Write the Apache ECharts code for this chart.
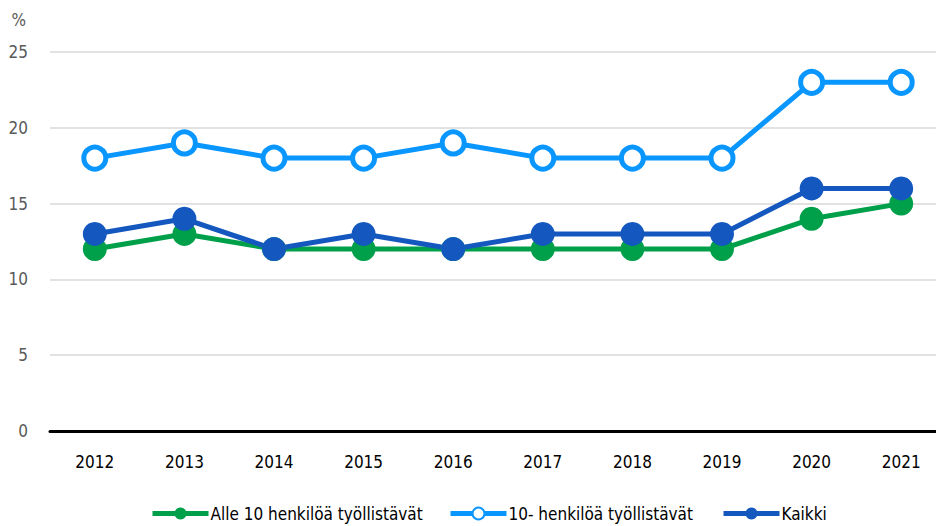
<!DOCTYPE html>
<html><head><meta charset="utf-8">
<script src="https://cdn.jsdelivr.net/npm/echarts@6/dist/echarts.min.js"></script>
<style>html,body{margin:0;padding:0;background:#fff}#c{width:936px;height:526px}</style>
</head><body><div id="c"></div>
<script>
const categories = ['2012','2013','2014','2015','2016','2017','2018','2019','2020','2021'];
const alle10 = [12,13,12,12,12,12,12,12,14,15];
const yli10 = [18,19,18,18,19,18,18,18,23,23];
const kaikki = [13,14,12,13,12,13,13,13,16,16];
const seriesNames = ['Alle 10 henkilöä työllistävät','10- henkilöä työllistävät','Kaikki'];
const FONT = '"Liberation Sans Narrow", "DejaVu Sans Condensed", "Noto Sans", sans-serif';
const FW = 'condensed';
const chart = echarts.init(document.getElementById('c'), null, {renderer:'svg'});
function mk(name, data, color, hollow){
  return {
    name, type:'line', data,
    symbol:'circle', symbolSize: hollow ? 22 : 24,
    lineStyle:{color, width:5},
    itemStyle: hollow ? {color:'#fff', borderColor:color, borderWidth:5} : {color, borderColor:color, borderWidth:0},
    emphasis:{disabled:true}, z: hollow?2:3
  };
}
function lg(name, left){
  return {
    bottom:4, left, itemWidth:56, itemHeight:15, padding:0,
    lineStyle:{width:5},
    textStyle:{fontFamily:FONT, fontWeight:FW, fontSize:17, color:'#000', padding:[0,0,0,-3]},
    data:[name]
  };
}
chart.setOption({
  animation:false,
  grid:{left:50, top:52, width:896, height:379, containLabel:false, outerBoundsMode:'none'},
  legend:[lg(seriesNames[0],150), lg(seriesNames[1],448), lg(seriesNames[2],721)],
  xAxis:{
    type:'category', data:categories, boundaryGap:true,
    axisLine:{lineStyle:{color:'#000', width:3}},
    axisTick:{show:false},
    axisLabel:{fontFamily:FONT, fontWeight:FW, fontSize:17, color:'#000', margin:22}
  },
  yAxis:{
    type:'value', min:0, max:25, interval:5, name:'%',
    nameLocation:'end', nameGap:24,
    nameTextStyle:{fontFamily:FONT, fontWeight:FW, fontSize:17, color:'#595959', align:'right', padding:[0,24,0,0]},
    axisLine:{show:false}, axisTick:{show:false},
    axisLabel:{fontFamily:FONT, fontWeight:FW, fontSize:17, color:'#595959', margin:22},
    splitLine:{lineStyle:{color:'#d9d9d9', width:1.5}}
  },
  series:[
    mk(seriesNames[0], alle10, '#00A04B', false),
    mk(seriesNames[1], yli10, '#0A96FF', true),
    mk(seriesNames[2], kaikki, '#1458BF', false)
  ]
});
</script></body></html>
